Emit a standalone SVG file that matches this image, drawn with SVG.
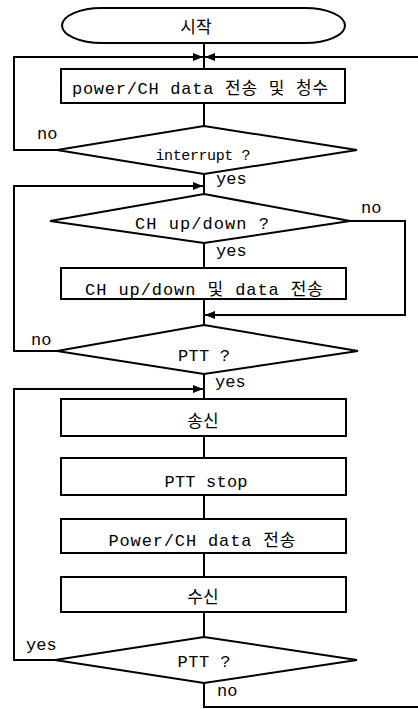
<svg xmlns="http://www.w3.org/2000/svg" width="418" height="709" viewBox="0 0 418 709">
<style>
.s{fill:#fff;stroke:#000;stroke-width:2}
.c{fill:none;stroke:#000;stroke-width:2}
.t{font-family:"Liberation Mono","Noto Sans CJK KR",monospace;font-size:17px;fill:#000;text-anchor:middle}
.l{font-family:"Liberation Mono",monospace;font-size:17px;fill:#000}
.k{font-family:"Noto Sans CJK KR","Noto Sans",sans-serif;font-size:17px;fill:#000;text-anchor:middle}
</style>
<defs>
<marker id="a" markerWidth="10" markerHeight="10" refX="10" refY="5" orient="auto" markerUnits="userSpaceOnUse">
<path d="M0,1 L10,5 L0,9 Z" fill="#000"/>
</marker>
</defs>
<rect width="418" height="709" fill="#fff"/>
<g id="connectors">
<path class="c" d="M204,43 V69"/>
<path class="c" d="M57,150 H14 V57 H203" marker-end="url(#a)"/>
<path class="c" d="M418,57 H205" marker-end="url(#a)"/>
<path class="c" d="M204,103 V126"/>
<path class="c" d="M204,174 V194"/>
<path class="c" d="M57,351 H14 V186 H203" marker-end="url(#a)"/>
<path class="c" d="M350,221 H405 V315 H205" marker-end="url(#a)"/>
<path class="c" d="M204,243 V268"/>
<path class="c" d="M204,299 V325"/>
<path class="c" d="M204,374 V399"/>
<path class="c" d="M55,660 H14 V389 H203" marker-end="url(#a)"/>
<path class="c" d="M204,436 V458"/>
<path class="c" d="M204,495 V519"/>
<path class="c" d="M204,553 V577"/>
<path class="c" d="M204,612 V637"/>
<path class="c" d="M204,683 V707 H418"/>
</g>
<g id="start">
<rect class="s" x="62" y="8" width="283" height="35" rx="40" ry="17.5"/>
<text class="k" x="196" y="33">시작</text>
</g>
<g id="box1">
<rect class="s" x="61" y="69" width="284" height="34"/>
<text class="t" x="200" y="94" textLength="256">power/CH data 전송 및 청수</text>
</g>
<g id="dec1">
<polygon class="s" points="204,126 357,150 204,174 57,150"/>
<text class="t" x="203" y="160" textLength="95" style="font-size:15px">interrupt ?</text>
<text class="l" x="37" y="139">no</text>
<text class="l" x="216" y="184">yes</text>
</g>
<g id="dec2">
<polygon class="s" points="204,194 350,221 204,243 50,221"/>
<text class="t" x="202" y="229" textLength="134">CH up/down ?</text>
<text class="l" x="361" y="213">no</text>
<text class="l" x="216" y="256">yes</text>
</g>
<g id="box2">
<rect class="s" x="61" y="268" width="285" height="31"/>
<text class="t" x="204" y="295" textLength="238">CH up/down 및 data 전송</text>
</g>
<g id="dec3">
<polygon class="s" points="204,325 358,351 204,374 57,351"/>
<text class="t" x="204" y="361" textLength="52">PTT ?</text>
<text class="l" x="31" y="345">no</text>
<text class="l" x="215" y="387">yes</text>
</g>
<g id="box3">
<rect class="s" x="61" y="399" width="285" height="37"/>
<text class="k" x="203" y="427">송신</text>
</g>
<g id="box4">
<rect class="s" x="61" y="458" width="285" height="37"/>
<text class="t" x="206" y="487" textLength="83">PTT stop</text>
</g>
<g id="box5">
<rect class="s" x="61" y="519" width="285" height="34"/>
<text class="t" x="202" y="546" textLength="187">Power/CH data 전송</text>
</g>
<g id="box6">
<rect class="s" x="61" y="577" width="285" height="35"/>
<text class="k" x="203" y="603">수신</text>
</g>
<g id="dec4">
<polygon class="s" points="204,637 357,660 204,683 55,660"/>
<text class="t" x="204" y="667" textLength="53">PTT ?</text>
<text class="l" x="26" y="650">yes</text>
<text class="l" x="217" y="696">no</text>
</g>
</svg>
